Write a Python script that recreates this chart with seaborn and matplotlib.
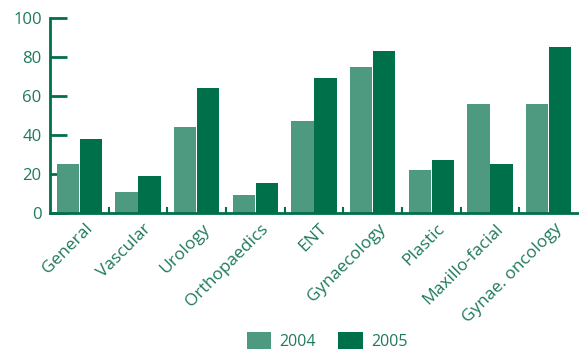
import matplotlib
matplotlib.use("Agg")
import matplotlib.pyplot as plt
import matplotlib.transforms as mtransforms
import seaborn as sns
import pandas as pd
import numpy as np
from matplotlib.patches import Patch

specialties = ["General", "Vascular", "Urology", "Orthopaedics", "ENT",
               "Gynaecology", "Plastic", "Maxillo-facial", "Gynae. oncology"]
values_2004 = [25, 11, 44, 9, 47, 75, 22, 56, 56]
values_2005 = [38, 19, 64, 15.5, 69, 83, 27, 25, 85]
years = ["2004", "2005"]
y_ticks = [0, 20, 40, 60, 80, 100]

light = "#4e9a80"
dark = "#00704a"
text_col = "#1f7a5c"

df = pd.DataFrame({
    "specialty": specialties * 2,
    "year": [years[0]] * len(specialties) + [years[1]] * len(specialties),
    "value": values_2004 + values_2005,
})

sns.set_style("white")
plt.rcParams["font.family"] = ["Open Sans", "DejaVu Sans"]

fig = plt.figure(figsize=(5.79, 3.60), dpi=100)
ax = fig.add_axes([50 / 579, 1 - 213 / 360, 528 / 579, 195 / 360])

sns.barplot(data=df, x="specialty", y="value", hue="year", order=specialties,
            hue_order=years, palette=[light, dark], width=0.79, gap=0.04,
            saturation=1, ax=ax, legend=False, linewidth=0)

ax.set_xlim(-0.5, len(specialties) - 0.5)
ax.set_ylim(0, 100)
ax.set_xlabel("")
ax.set_ylabel("")

for side in ["top", "right"]:
    ax.spines[side].set_visible(False)
for side in ["left", "bottom"]:
    ax.spines[side].set_color(dark)
    ax.spines[side].set_linewidth(2)

ax.set_yticks(y_ticks)
ax.set_yticklabels([str(t) for t in y_ticks], fontsize=12, color=text_col)
ax.tick_params(axis="y", direction="in", length=12, width=2, color=dark, pad=6,
               left=True)

ax.set_xticks(range(len(specialties)))
ax.set_xticklabels(specialties, rotation=45, ha="right", rotation_mode="anchor",
                   fontsize=12.5, color=text_col)
ax.tick_params(axis="x", which="major", length=0, pad=7)
shift = mtransforms.ScaledTranslation(0.05, 0.02, fig.dpi_scale_trans)
for lbl in ax.get_xticklabels():
    lbl.set_transform(lbl.get_transform() + shift)
ax.set_xticks(np.arange(0.5, len(specialties) - 0.5, 1), minor=True)
ax.tick_params(axis="x", which="minor", direction="in", length=4, width=1.5,
               color=dark, bottom=True)

handles = [Patch(facecolor=light, edgecolor="none"),
           Patch(facecolor=dark, edgecolor="none")]
fig.legend(handles, years, loc="lower center", bbox_to_anchor=(0.565, -0.012),
           ncol=2, frameon=False, fontsize=11.5, labelcolor=text_col,
           handlelength=1.55, handleheight=1.2, columnspacing=1.4,
           handletextpad=0.5)

fig.savefig("out.png", dpi=100)
